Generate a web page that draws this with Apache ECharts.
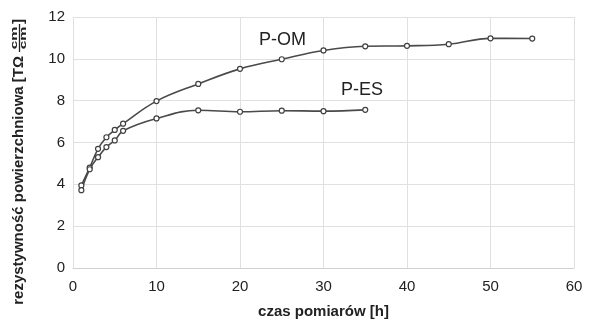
<!DOCTYPE html>
<html>
<head>
<meta charset="utf-8">
<script src="https://cdn.jsdelivr.net/npm/echarts@6/dist/echarts.min.js"></script>
<style>
  html, body { margin: 0; padding: 0; background: #fff; }
  #chart { width: 590px; height: 324px; }
</style>
</head>
<body>
<div id="chart"></div>
<script>
// dane
var omHours = [1, 2, 3, 4, 5, 6, 10, 15, 20, 25, 30, 35, 40, 45, 50, 55];
var omValues = [3.95, 4.8, 5.7, 6.25, 6.6, 6.9, 7.98, 8.8, 9.52, 9.98, 10.4, 10.6, 10.62, 10.7, 10.98, 10.97];
var esHours = [1, 2, 3, 4, 5, 6, 10, 15, 20, 25, 30, 35];
var esValues = [3.72, 4.72, 5.3, 5.78, 6.1, 6.56, 7.15, 7.54, 7.47, 7.52, 7.5, 7.56];
var xTicks = [0, 10, 20, 30, 40, 50, 60];
var yTicks = [0, 2, 4, 6, 8, 10, 12];

function pairs(xs, ys) {
    var out = [];
    for (var i = 0; i < xs.length; i++) {
        out.push([xs[i], ys[i]]);
    }
    return out;
}

var myChart = echarts.init(document.getElementById('chart'));

var lineStyle = { color: '#4a4a4a', width: 1.6 };
var itemStyle = { color: '#fff', borderColor: '#404040', borderWidth: 1.2 };
var boldFont = { fontFamily: 'Liberation Sans', fontWeight: 'bold', fontSize: 15, fill: '#222' };
var cmFont = { fontFamily: 'Liberation Sans', fontWeight: 'bold', fontSize: 16, fill: '#222' };

var option = {
    animation: false,
    grid: { left: 73, right: 16, top: 17, bottom: 54 },
    xAxis: {
        type: 'value',
        min: xTicks[0],
        max: xTicks[xTicks.length - 1],
        interval: 10,
        name: 'czas pomiarów [h]',
        nameLocation: 'middle',
        nameGap: 36,
        nameTextStyle: { fontFamily: 'Liberation Sans', fontWeight: 'bold', fontSize: 15, color: '#222' },
        axisLine: { show: true, lineStyle: { color: '#d0d0d0' } },
        axisTick: { show: false },
        axisLabel: { fontFamily: 'Liberation Sans', fontSize: 15, color: '#222', margin: 11 },
        splitLine: { show: true, lineStyle: { color: '#e0e0e0' } }
    },
    yAxis: {
        type: 'value',
        min: yTicks[0],
        max: yTicks[yTicks.length - 1],
        interval: 2,
        axisLine: { show: false },
        axisTick: { show: false },
        axisLabel: { fontFamily: 'Liberation Sans', fontSize: 15, color: '#222', margin: 8 },
        splitLine: { show: true, lineStyle: { color: '#e0e0e0' } }
    },
    graphic: [
        // opis osi Y z ulamkiem cm/cm
        {
            type: 'text', x: 19, y: 56, rotation: Math.PI / 2,
            style: Object.assign({ text: 'rezystywność powierzchniowa [TΩ', align: 'right', verticalAlign: 'middle' }, boldFont)
        },
        {
            type: 'text', x: 15, y: 38, rotation: Math.PI / 2, scaleY: 0.55,
            style: Object.assign({ text: 'cm', align: 'center', verticalAlign: 'middle' }, cmFont)
        },
        {
            type: 'text', x: 23.5, y: 38, rotation: Math.PI / 2, scaleY: 0.55,
            style: Object.assign({ text: 'cm', align: 'center', verticalAlign: 'middle' }, cmFont)
        },
        {
            type: 'line', shape: { x1: 19.5, y1: 24, x2: 19.5, y2: 52 },
            style: { stroke: '#222', lineWidth: 1.3 }
        },
        {
            type: 'text', x: 19, y: 19, rotation: Math.PI / 2,
            style: Object.assign({ text: ']', align: 'right', verticalAlign: 'middle' }, boldFont)
        },
        // podpisy serii
        {
            type: 'text', left: 259, top: 31,
            style: { text: 'P-OM', fontFamily: 'Liberation Sans', fontSize: 18, fill: '#222' }
        },
        {
            type: 'text', left: 341, top: 81,
            style: { text: 'P-ES', fontFamily: 'Liberation Sans', fontSize: 18, fill: '#222' }
        }
    ],
    series: [
        {
            name: 'P-OM',
            type: 'line',
            smooth: 0.4,
            data: pairs(omHours, omValues),
            symbol: 'circle',
            symbolSize: 5,
            lineStyle: lineStyle,
            itemStyle: itemStyle
        },
        {
            name: 'P-ES',
            type: 'line',
            smooth: 0.4,
            data: pairs(esHours, esValues),
            symbol: 'circle',
            symbolSize: 5,
            lineStyle: lineStyle,
            itemStyle: itemStyle
        }
    ]
};

myChart.setOption(option);
</script>
</body>
</html>
